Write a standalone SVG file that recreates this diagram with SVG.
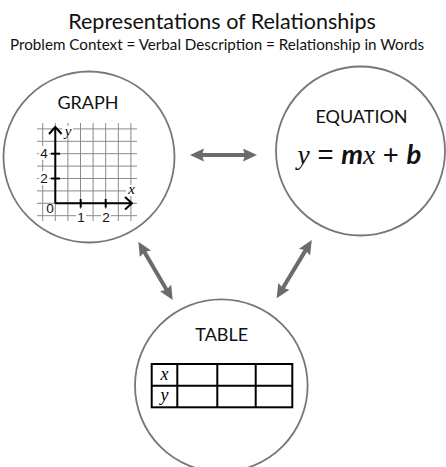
<svg xmlns="http://www.w3.org/2000/svg" width="446" height="467" viewBox="0 0 446 467">
<style>
.title{font-family:Lato,"Liberation Sans",sans-serif;fill:#111;}
.circ{fill:#fff;stroke:#777;stroke-width:1.8;}
.lbl{font-family:Lato,"Liberation Sans",sans-serif;font-size:18px;fill:#111;text-anchor:middle;}
.grid line{stroke:#8a8a8a;stroke-width:1;}
.num{font-family:"Liberation Sans",Arial,sans-serif;font-size:13.5px;fill:#111;text-anchor:middle;}
.ser{font-family:"Liberation Serif","Times New Roman",serif;font-style:italic;}
.arr{stroke:#6b6b6b;stroke-width:4;fill:none;marker-start:url(#ah);marker-end:url(#ah);}
.tb{fill:none;stroke:#000;stroke-width:2;}
</style>
<defs>
<marker id="ah" markerUnits="userSpaceOnUse" markerWidth="15" markerHeight="14" refX="4" refY="6.5" orient="auto-start-reverse" viewBox="0 0 15 14">
<path d="M0,0 L14,6.5 L0,13 L2,6.5 z" fill="#6b6b6b"/>
</marker>
</defs>
<rect width="446" height="467" fill="#fff"/>
<text class="title" x="222" y="29" font-size="21.5" text-anchor="middle">Representations of Relationships</text>
<text class="title" x="217" y="50" font-size="15.2" text-anchor="middle">Problem Context = Verbal Description = Relationship in Words</text>

<g id="connectors">
<line class="arr" x1="200" y1="155" x2="247" y2="155"/>
<line class="arr" x1="143.4" y1="250.3" x2="167.6" y2="291.4"/>
<line class="arr" x1="306.6" y1="248.6" x2="281.8" y2="289.7"/>
</g>

<g id="graph">
<circle class="circ" cx="89" cy="157" r="85.5"/>
<text class="lbl" x="88" y="109">GRAPH</text>
<g class="grid">
<line x1="42.7" y1="123" x2="42.7" y2="221"/>
<line x1="55.3" y1="123" x2="55.3" y2="221"/>
<line x1="67.9" y1="123" x2="67.9" y2="221"/>
<line x1="80.5" y1="123" x2="80.5" y2="221"/>
<line x1="93.1" y1="123" x2="93.1" y2="221"/>
<line x1="105.7" y1="123" x2="105.7" y2="221"/>
<line x1="118.3" y1="123" x2="118.3" y2="221"/>
<line x1="130.9" y1="123" x2="130.9" y2="221"/>
<line x1="37" y1="128.9" x2="137" y2="128.9"/>
<line x1="37" y1="141.3" x2="137" y2="141.3"/>
<line x1="37" y1="153.7" x2="137" y2="153.7"/>
<line x1="37" y1="166.1" x2="137" y2="166.1"/>
<line x1="37" y1="178.5" x2="137" y2="178.5"/>
<line x1="37" y1="190.9" x2="137" y2="190.9"/>
<line x1="37" y1="203.3" x2="137" y2="203.3"/>
<line x1="37" y1="215.7" x2="137" y2="215.7"/>
</g>
<rect x="39" y="146" width="10" height="14" fill="#fff"/>
<rect x="39" y="171" width="10" height="14" fill="#fff"/>
<rect x="76" y="209" width="10" height="14" fill="#fff"/>
<rect x="101" y="209" width="10" height="14" fill="#fff"/>
<rect x="45" y="205" width="9" height="9" fill="#fff"/>
<rect x="62" y="126" width="11" height="11" fill="#fff"/>
<rect x="126" y="185" width="11" height="11" fill="#fff"/>
<g stroke="#000" stroke-width="2" fill="none">
<line x1="55.3" y1="203.3" x2="55.3" y2="127"/>
<line x1="55.3" y1="203.3" x2="132" y2="203.3"/>
<path d="M49,134 L55.3,127 L61.6,134"/>
<path d="M125,197 L132,203.3 L125,209.6"/>
<line x1="51" y1="153.7" x2="60" y2="153.7"/>
<line x1="51" y1="178.5" x2="60" y2="178.5"/>
<line x1="80.7" y1="199" x2="80.7" y2="207.5"/>
<line x1="105.7" y1="199" x2="105.7" y2="207.5"/>
</g>
<text class="num" x="44" y="158">4</text>
<text class="num" x="44" y="183">2</text>
<text class="num" x="50" y="213">0</text>
<text class="num" x="81" y="222">1</text>
<text class="num" x="106" y="222">2</text>
<text class="ser" x="68" y="136" font-size="15" text-anchor="middle">y</text>
<text class="ser" x="131.5" y="194" font-size="15" text-anchor="middle">x</text>
</g>

<g id="equation">
<circle class="circ" cx="360.5" cy="151" r="84.5"/>
<text class="lbl" x="361.5" y="123.3">EQUATION</text>
<text x="359.5" y="164.3" font-size="27.5" text-anchor="middle" fill="#111"><tspan class="ser">y</tspan><tspan font-family="'Liberation Sans',sans-serif"> = </tspan><tspan font-family="Lato,'Liberation Sans',sans-serif" font-style="italic" font-weight="bold">m</tspan><tspan class="ser">x</tspan><tspan font-family="'Liberation Sans',sans-serif"> + </tspan><tspan font-family="Lato,'Liberation Sans',sans-serif" font-style="italic" font-weight="bold">b</tspan></text>
</g>

<g id="table">
<circle class="circ" cx="221.3" cy="385.6" r="86.3"/>
<text class="lbl" x="221.7" y="340.7">TABLE</text>
<rect class="tb" x="151.7" y="364" width="140.6" height="43.3"/>
<line class="tb" x1="151.7" y1="385.7" x2="292.3" y2="385.7"/>
<line class="tb" x1="177.3" y1="364" x2="177.3" y2="407.3"/>
<line class="tb" x1="217.3" y1="364" x2="217.3" y2="407.3"/>
<line class="tb" x1="255.7" y1="364" x2="255.7" y2="407.3"/>
<text class="ser" x="164.5" y="380" font-size="18" text-anchor="middle" fill="#000">x</text>
<text class="ser" x="164.5" y="401" font-size="18" text-anchor="middle" fill="#000">y</text>
</g>
</svg>
